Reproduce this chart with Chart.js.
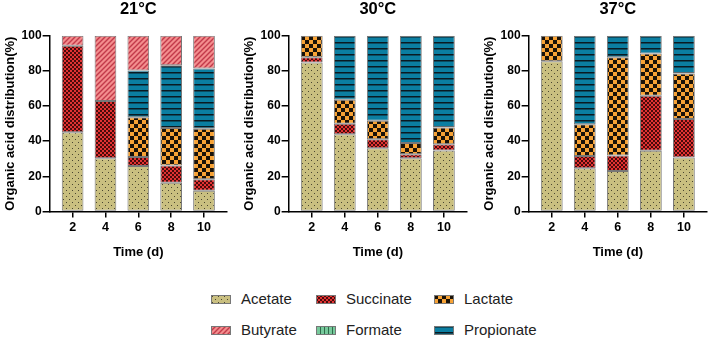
<!DOCTYPE html>
<html>
<head>
<meta charset="utf-8">
<script src="https://cdn.jsdelivr.net/npm/chart.js@4/dist/chart.umd.min.js"></script>
<style>
  html, body { margin:0; padding:0; background:#fff; width:709px; height:338px; overflow:hidden; }
  .chart { position:absolute; top:0; height:260px; }
  .leg { position:absolute; font-family:'Liberation Sans', Arial, sans-serif; font-size:15px; color:#222; line-height:18px; display:flex; align-items:center; }
  .leg canvas { margin-right:10px; }
</style>
</head>
<body>
<div class="chart" style="left:2px;width:227px;"><canvas id="c1"></canvas></div>
<div class="chart" style="left:241px;width:228px;"><canvas id="c2"></canvas></div>
<div class="chart" style="left:481px;width:228px;"><canvas id="c3"></canvas></div>
<div id="legend"></div>
<script>
// ---- Data ----
const days = [2, 4, 6, 8, 10];
const panelTitles = ['21°C', '30°C', '37°C'];
const seriesNames = ['Acetate', 'Succinate', 'Lactate', 'Butyrate', 'Formate', 'Propionate'];
const yTicks = [0, 20, 40, 60, 80, 100];

const acetate21    = [45.1, 30.2, 25.9, 16.3, 11.8];
const succinate21  = [49.2, 32.7, 5.1, 9.9, 6.5];
const lactate21    = [0, 0, 22.6, 21.3, 28.8];
const formate21    = [0, 0, 0, 0, 0];
const propionate21 = [0, 0, 26.6, 35.8, 34.3];
const butyrate21   = [5.7, 37.1, 19.8, 16.7, 18.6];

const acetate30    = [84.8, 44.0, 36.0, 30.3, 34.7];
const succinate30  = [3.0, 5.9, 5.1, 2.3, 3.6];
const lactate30    = [12.2, 13.7, 10.5, 6.4, 9.5];
const formate30    = [0, 0, 0, 0, 0];
const propionate30 = [0, 36.4, 48.4, 61.0, 52.2];
const butyrate30   = [0, 0, 0, 0, 0];

const acetate37    = [85.5, 24.6, 23.0, 34.5, 30.7];
const succinate37  = [0, 7.0, 8.8, 31.4, 21.9];
const lactate37    = [14.5, 18.1, 56.0, 24.0, 25.9];
const formate37    = [0, 0, 0, 0, 0];
const propionate37 = [0, 50.3, 12.2, 10.1, 21.5];
const butyrate37   = [0, 0, 0, 0, 0];

// ---- Patterns ----
function makeTile(w, h, draw) {
  const c = document.createElement('canvas');
  c.width = w; c.height = h;
  draw(c.getContext('2d'));
  return c;
}
const tiles = {
  Acetate: makeTile(6, 6, (g) => {
    g.fillStyle = '#c9bf80'; g.fillRect(0, 0, 6, 6);
    g.fillStyle = '#4a4630'; g.fillRect(1, 1, 1, 1); g.fillRect(4, 4, 1, 1);
  }),
  Succinate: makeTile(4, 4, (g) => {
    g.fillStyle = '#e23232'; g.fillRect(0, 0, 4, 4);
    g.fillStyle = '#4a0b0b'; g.fillRect(0, 0, 2, 2); g.fillRect(2, 2, 2, 2);
  }),
  Lactate: makeTile(8, 8, (g) => {
    g.fillStyle = '#f7a235'; g.fillRect(0, 0, 8, 8);
    g.fillStyle = '#1a1208'; g.fillRect(0, 0, 4, 4); g.fillRect(4, 4, 4, 4);
  }),
  Butyrate: makeTile(5, 5, (g) => {
    g.fillStyle = '#f38d8d'; g.fillRect(0, 0, 5, 5);
    g.strokeStyle = '#c23a4a'; g.lineWidth = 1.4;
    g.beginPath();
    g.moveTo(-1, 6); g.lineTo(6, -1);
    g.moveTo(-1, 1); g.lineTo(1, -1);
    g.moveTo(4, 6); g.lineTo(6, 4);
    g.stroke();
  }),
  Formate: makeTile(4, 4, (g) => {
    g.fillStyle = '#76c99b'; g.fillRect(0, 0, 4, 4);
    g.fillStyle = '#2f6b4a'; g.fillRect(0, 0, 1, 4);
  }),
  Propionate: makeTile(6, 6, (g) => {
    g.fillStyle = '#0b7ea1'; g.fillRect(0, 0, 6, 6);
    g.fillStyle = '#0a1a22'; g.fillRect(0, 0, 6, 1.5);
  })
};
const probe = document.createElement('canvas').getContext('2d');
const patterns = {};
for (const k in tiles) patterns[k] = probe.createPattern(tiles[k], 'repeat');

// ---- Charts ----
const FONT = "'Liberation Sans', Arial, sans-serif";
Chart.defaults.font.family = FONT;
Chart.defaults.color = '#000';

function buildChart(id, title, acetate, succinate, lactate, formate, propionate, butyrate) {
  const mk = (name, values) => ({
    label: name,
    data: days.map((d, i) => ({ x: d, y: values[i] })),
    backgroundColor: patterns[name],
    borderColor: '#777777', borderWidth: 1, borderSkipped: false,
    barPercentage: 0.66, categoryPercentage: 1.0
  });
  return new Chart(document.getElementById(id), {
    type: 'bar',
    data: {
      datasets: [
        mk('Acetate', acetate), mk('Succinate', succinate), mk('Lactate', lactate),
        mk('Formate', formate), mk('Propionate', propionate), mk('Butyrate', butyrate)
      ]
    },
    options: {
      responsive: true, maintainAspectRatio: false, animation: false,
      layout: { padding: { left: 1, right: 2, top: 0, bottom: 0 } },
      plugins: {
        legend: { display: false },
        tooltip: { enabled: false },
        title: { display: true, text: title, fullSize: false, color: '#000',
                 font: { size: 16.5, weight: 'bold', family: FONT },
                 padding: { top: 0, bottom: 16 } }
      },
      scales: {
        x: {
          type: 'linear', stacked: true, min: 0.6, max: 11.4, offset: false,
          afterBuildTicks: (ax) => { ax.ticks = days.map(v => ({ value: v })); },
          border: { color: '#000', width: 1.5 },
          grid: { offset: false, drawOnChartArea: false, drawTicks: true, tickLength: 6, color: '#000', lineWidth: 1.5 },
          ticks: { font: { size: 12.5, weight: 'bold' }, color: '#000', padding: 3 },
          title: { display: true, text: 'Time (d)', color: '#000', font: { size: 13, weight: 'bold' }, padding: { top: 6, bottom: 0 } }
        },
        y: {
          stacked: true, min: 0, max: 100,
          afterBuildTicks: (ax) => { ax.ticks = yTicks.map(v => ({ value: v })); },
          border: { color: '#000', width: 1.5 },
          grid: { drawOnChartArea: false, drawTicks: true, tickLength: 7, color: '#000', lineWidth: 1.5 },
          ticks: { font: { size: 12, weight: 'bold' }, color: '#000', padding: 1 },
          title: { display: true, text: 'Organic acid distribution(%)', color: '#000', font: { size: 13, weight: 'bold' }, padding: { top: 0, bottom: 2 } }
        }
      }
    }
  });
}

buildChart('c1', panelTitles[0], acetate21, succinate21, lactate21, formate21, propionate21, butyrate21);
buildChart('c2', panelTitles[1], acetate30, succinate30, lactate30, formate30, propionate30, butyrate30);
buildChart('c3', panelTitles[2], acetate37, succinate37, lactate37, formate37, propionate37, butyrate37);

// ---- Legend ----
const legPos = [
  { x: 211, y: 290 }, { x: 316, y: 290 }, { x: 434, y: 290 },
  { x: 211, y: 321 }, { x: 316, y: 321 }, { x: 434, y: 321 }
];
const legend = document.getElementById('legend');
seriesNames.forEach((name, i) => {
  const d = document.createElement('div');
  d.className = 'leg';
  d.style.left = legPos[i].x + 'px';
  d.style.top = legPos[i].y + 'px';
  const sw = document.createElement('canvas');
  sw.width = 20; sw.height = 9;
  const g = sw.getContext('2d');
  g.fillStyle = g.createPattern(tiles[name], 'repeat');
  g.fillRect(0, 0, 20, 9);
  g.strokeStyle = '#777777'; g.lineWidth = 1;
  g.strokeRect(0.5, 0.5, 19, 8);
  d.appendChild(sw);
  const t = document.createElement('span');
  t.textContent = name;
  d.appendChild(t);
  legend.appendChild(d);
});
</script>
</body>
</html>
